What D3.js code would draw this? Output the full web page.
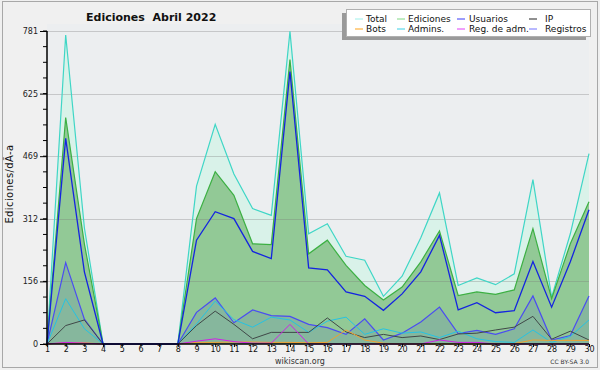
<!DOCTYPE html>
<html><head><meta charset="utf-8">
<script src="https://cdn.jsdelivr.net/npm/d3@7"></script>
<style>html,body{margin:0;padding:0;background:#f0f0f0;}svg{display:block;}</style>
</head><body>
<svg id="c" width="600" height="370"></svg>
<script>
const days = d3.range(1, 31);
const total     = [0,771,290,0,0,0,0,0,394,548,424,338,321,780,275,300,219,209,119,169,265,377,146,165,148,175,410,117,275,475];
const ediciones = [0,565,250,0,0,0,0,0,313,430,371,250,248,710,225,259,196,146,110,142,205,282,121,130,124,135,288,113,250,355];
const usuarios  = [0,513,180,0,0,0,0,0,259,330,313,231,213,680,190,185,130,119,84,125,180,271,85,103,78,83,206,92,205,335];
const registros = [0,203,62,0,0,0,0,0,79,115,53,85,71,69,49,41,24,63,10,27,55,92,26,34,24,38,120,10,21,120];
const admins    = [0,113,38,0,0,0,0,0,50,107,61,42,67,60,29,57,67,24,38,27,30,16,32,13,6,4,35,4,19,60];
const ip        = [0,46,60,0,0,0,0,0,46,82,49,13,29,29,29,65,30,16,24,16,20,11,25,27,35,42,69,12,32,10];
const bots      = [0,3,3,0,0,0,0,0,4,4,5,5,4,4,3,4,35,10,2,0,0,0,0,0,0,1,10,9,9,9];
const regAdm    = [0,4,2,0,0,0,0,0,7,13,6,2,2,49,0,0,0,0,0,0,0,10,4,4,0,0,0,0,0,0];
const yTickLabels = ["0","156","312","469","625","781"];
const yMax = 781;
const legendNames = ["Total","Ediciones","Usuarios","IP","Bots","Admins.","Reg. de adm.","Registros"];
const title = "Ediciones  Abril 2022";
const yTitle = "Ediciones/dÃ-a";

const svg = d3.select("#c");
const x = d3.scaleLinear().domain([1,30]).range([47,589]);
const y = d3.scaleLinear().domain([0,yMax]).range([344,31]);
const font = "DejaVu Sans, Verdana, sans-serif";

// frame
svg.append("rect").attr("x",0).attr("y",0).attr("width",600).attr("height",370).attr("fill","#f0f0f0");
svg.append("rect").attr("x",2.5).attr("y",1.5).attr("width",595).attr("height",366)
  .attr("fill","#f0f0f0").attr("stroke","#a8a8a8");
// plot bg
svg.append("rect").attr("x",x(1)).attr("y",24).attr("width",x(30)-x(1)).attr("height",y(0)-24).attr("fill","#eceef0");

const line = arr => d3.line().x((d,i)=>x(days[i])).y(d=>y(d))(arr);
const area = arr => d3.area().x((d,i)=>x(days[i])).y0(y(0)).y1(d=>y(d))(arr);

svg.append("path").attr("d",area(total)).attr("fill","#d9f2e9");
svg.append("path").attr("d",area(ediciones)).attr("fill","#92c996");
svg.append("path").attr("d",area(registros)).attr("fill","rgba(70,80,200,0.15)");

// gridlines
const majors = d3.range(0,6).map(i=>yMax*i/5);
svg.append("g").selectAll("line").data(majors.slice(1)).join("line")
  .attr("x1",x(1)).attr("x2",x(30)).attr("y1",d=>Math.round(y(d))+0.5).attr("y2",d=>Math.round(y(d))+0.5)
  .attr("stroke","rgba(120,120,120,0.33)");

const series = [
  {d:total, c:"#3fd6c6", w:1.2},
  {d:ediciones, c:"#3cb043", w:1.2},
  {d:registros, c:"#4a4cf2", w:1.2},
  {d:admins, c:"#25c3e3", w:1},
  {d:ip, c:"#404848", w:1},
  {d:bots, c:"#f0a030", w:1},
  {d:regAdm, c:"#d020e8", w:1},
  {d:usuarios, c:"#1424e0", w:1.3}
];
series.forEach(s=>{
  svg.append("path").attr("d",line(s.d)).attr("fill","none").attr("stroke",s.c).attr("stroke-width",s.w).attr("stroke-linejoin","miter");
});

// axes
const yAxis = d3.axisLeft(y).tickValues(majors).tickFormat((d,i)=>yTickLabels[i]).tickSize(7).tickPadding(2);
const gy = svg.append("g").attr("transform","translate("+x(1)+",0)").call(yAxis);
gy.select(".domain").remove();
gy.selectAll("text").attr("font-family",font).attr("font-size",8).attr("fill","#222");
gy.selectAll("line").attr("stroke","#000");
svg.append("g").selectAll("line").data(d3.range(0,21).map(i=>yMax*i/20)).join("line")
  .attr("x1",x(1)-4).attr("x2",x(1)).attr("y1",d=>y(d)).attr("y2",d=>y(d)).attr("stroke","#000");

const xAxis = d3.axisBottom(x).tickValues(days).tickFormat(d3.format("d")).tickSize(3).tickPadding(-1);
const gx = svg.append("g").attr("transform","translate(0,"+y(0)+")").call(xAxis);
gx.select(".domain").remove();
gx.selectAll("text").attr("font-family",font).attr("font-size",8).attr("fill","#111");
gx.selectAll("line").attr("stroke","#000");

svg.append("line").attr("x1",x(1)).attr("x2",x(1)).attr("y1",y(yMax)).attr("y2",y(0)+1).attr("stroke","#000").attr("stroke-width",1.5);
svg.append("line").attr("x1",x(1)).attr("x2",x(30)).attr("y1",y(0)).attr("y2",y(0)).attr("stroke","#000").attr("stroke-width",1.5);

// titles
svg.append("text").attr("x",86).attr("y",21).attr("font-family",font).attr("font-weight","bold")
  .attr("font-size",11).attr("fill","#111").attr("xml:space","preserve").style("white-space","pre").text(title);
svg.append("text").attr("transform","translate(13,184) rotate(-90)").attr("text-anchor","middle")
  .attr("font-family",font).attr("font-size",10).attr("letter-spacing",0.4).attr("fill","#111").text(yTitle);
svg.append("text").attr("x",300).attr("y",364).attr("text-anchor","middle").attr("font-family",font)
  .attr("font-size",8).attr("fill","#333").text("wikiscan.org");
svg.append("text").attr("x",589).attr("y",364).attr("text-anchor","end").attr("font-family",font)
  .attr("font-size",6).attr("fill","#333").text("CC BY-SA 3.0");

// legend
const lg = svg.append("g");
lg.append("rect").attr("x",342).attr("y",13).attr("width",244).attr("height",27).attr("fill","#9a9a9a");
lg.append("rect").attr("x",346.5).attr("y",9.5).attr("width",244).attr("height",27).attr("fill","#fff").attr("stroke","#b0b0b0");
const legColors = ["#9ff0ea","#80d884","#3a3af8","#222","#ffa31a","#3ad0e6","#e040f8","#7272ff"];
const colX = [355,397,457,529];
const textX = [366,408,469,545];
legendNames.forEach((n,i)=>{
  const col=i%4, row=Math.floor(i/4);
  const yy = 19+row*10;
  lg.append("line").attr("x1",colX[col]).attr("x2",colX[col]+8).attr("y1",yy).attr("y2",yy).attr("stroke",legColors[i]).attr("stroke-width",1);
  lg.append("text").attr("x",textX[col]).attr("y",yy+3).attr("font-family",font).attr("font-size",9).attr("fill","#111").text(n);
});
</script>
</body></html>
